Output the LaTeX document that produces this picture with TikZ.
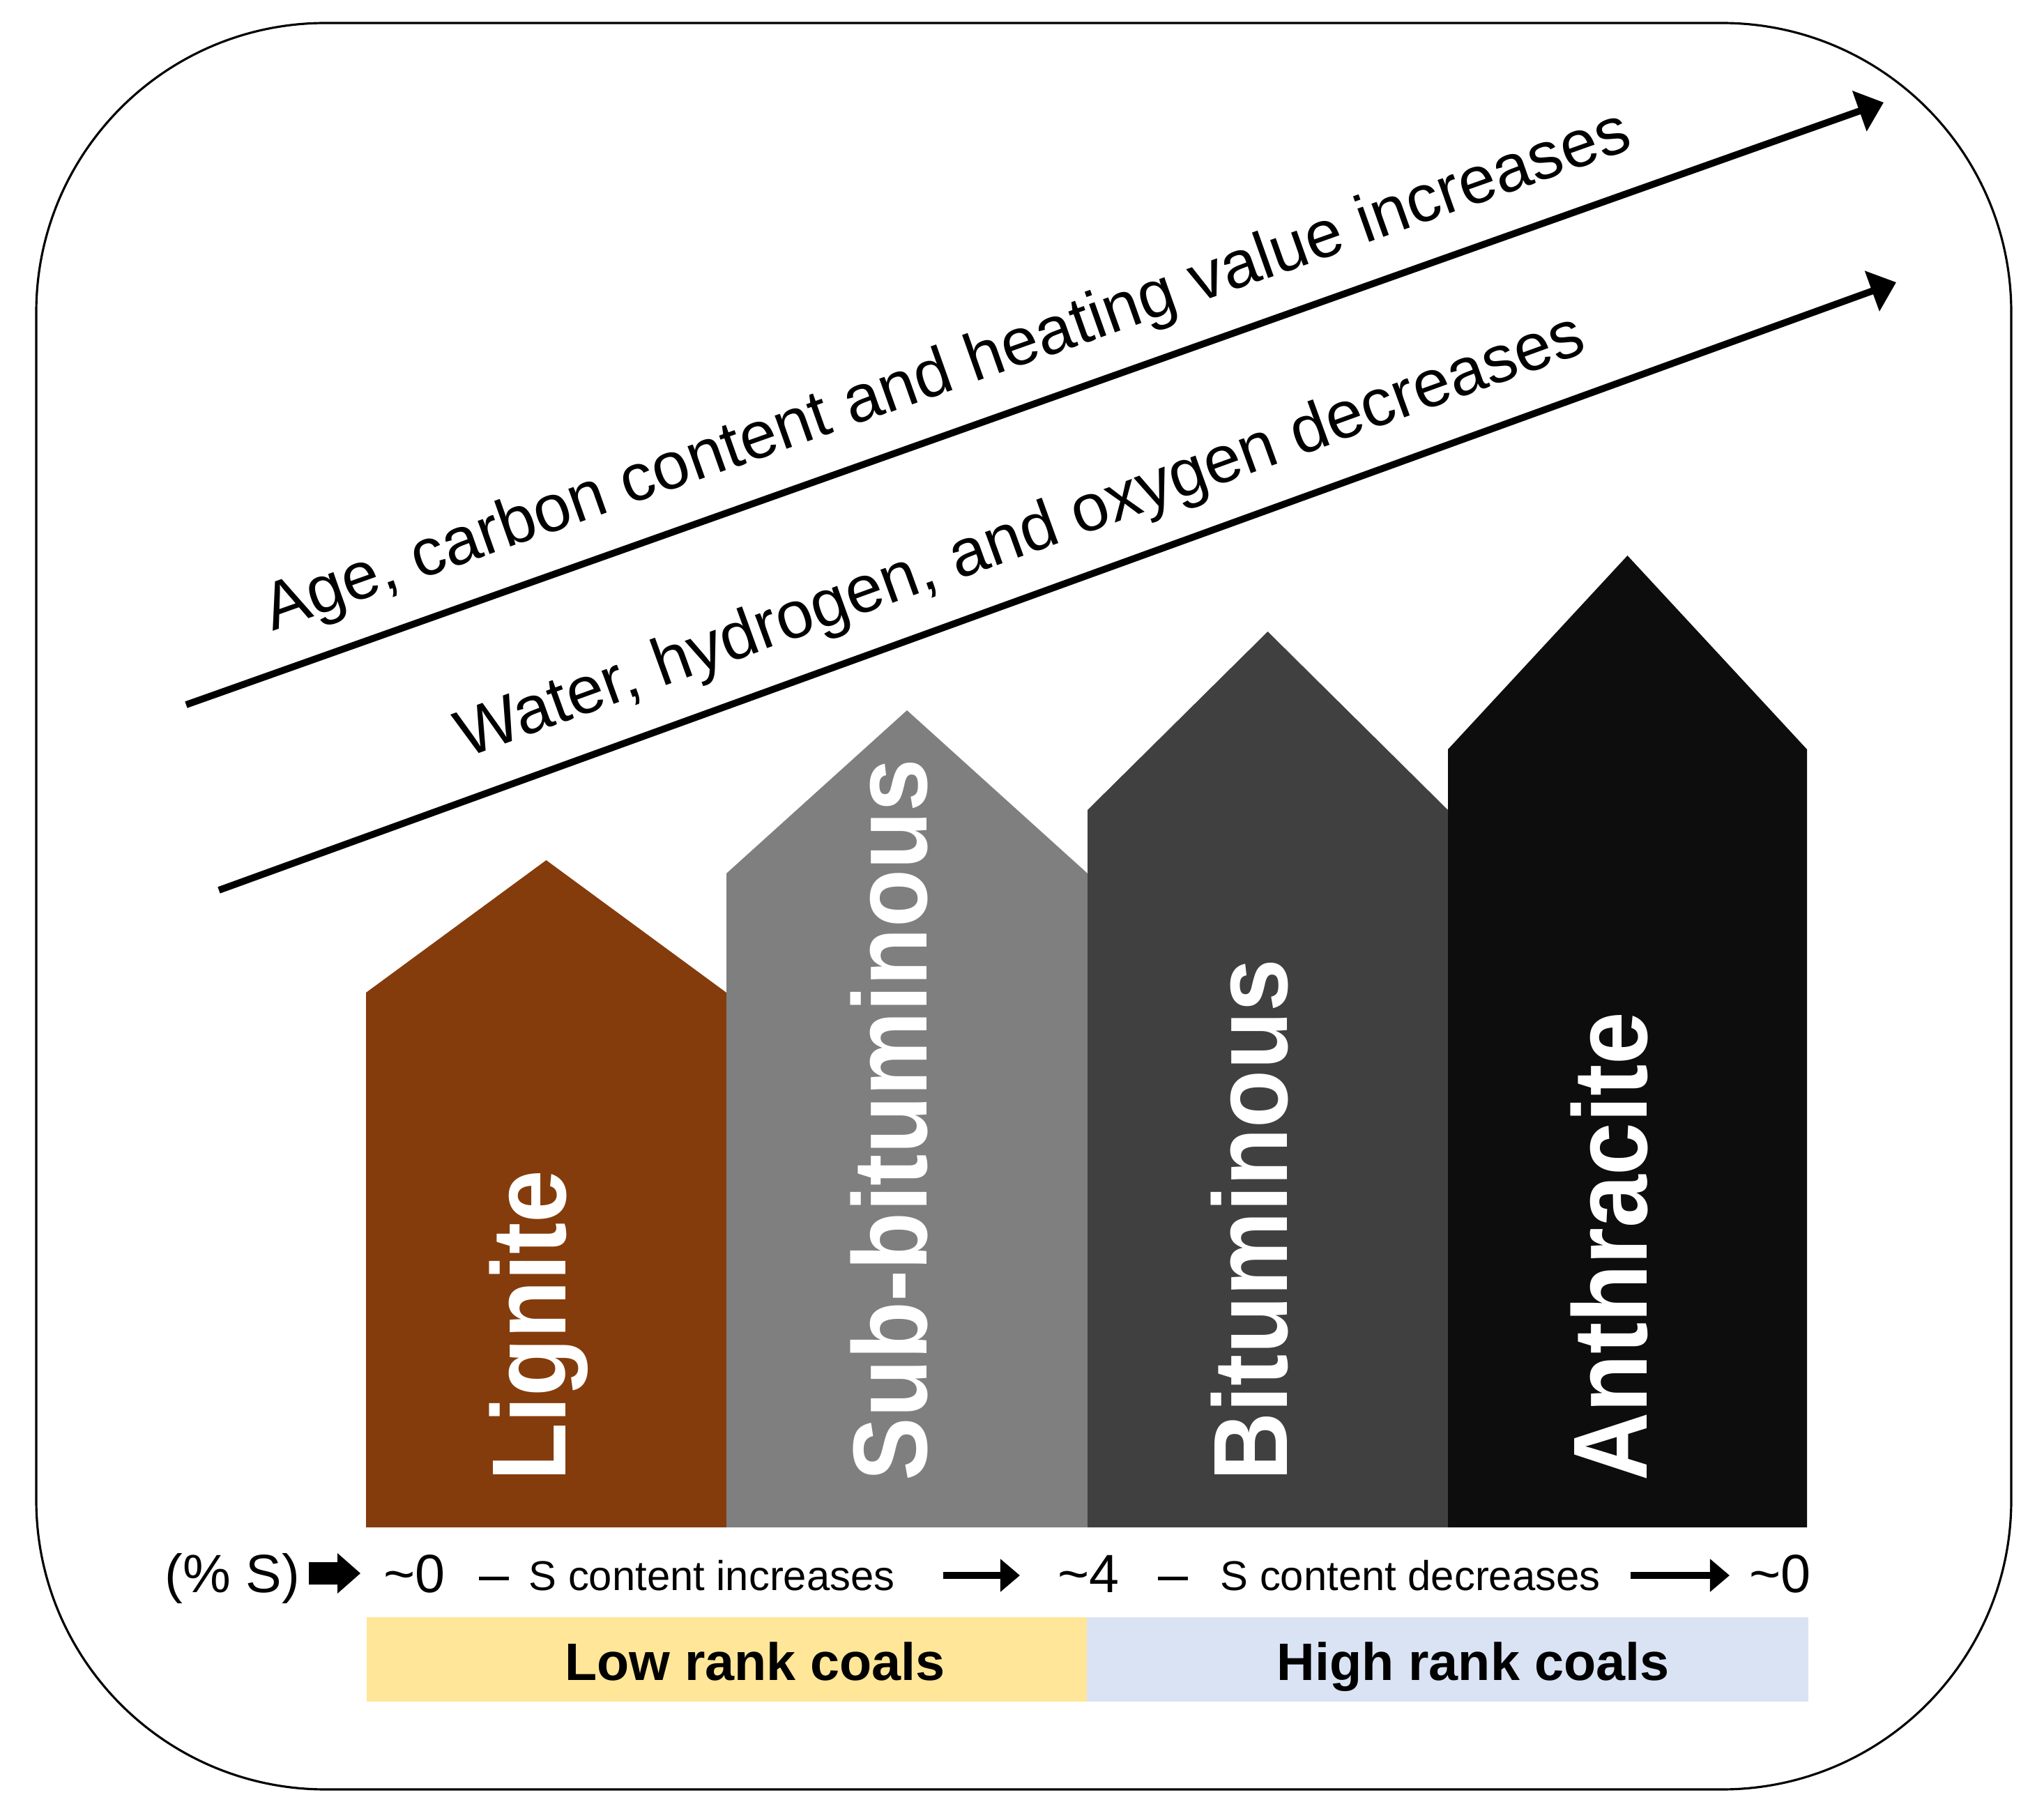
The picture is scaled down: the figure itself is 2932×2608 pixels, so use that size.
\documentclass[tikz,border=0pt]{standalone}
\usepackage{fontspec}
\setmainfont{Liberation Sans}
\newfontfamily\narrowsans[FakeStretch=0.9]{Liberation Sans}
\usetikzlibrary{arrows.meta}
\definecolor{lignitebrown}{HTML}{843C0C}
\definecolor{subgray}{HTML}{7F7F7F}
\definecolor{bitgray}{HTML}{404040}
\definecolor{anthblack}{HTML}{0D0D0D}
\definecolor{lowyellow}{HTML}{FFE699}
\definecolor{highblue}{HTML}{DAE3F3}

\begin{document}
\begin{tikzpicture}[x=0.1mm,y=-0.1mm,
  trend/.style={line width=2.8pt,-{Triangle[length=10.5pt,width=17pt]}},
  trendlabel/.style={above=6pt,sloped,font=\fontsize{27.2}{30}\selectfont},
  coallabel/.style={rotate=90,anchor=base west,inner sep=0pt,text=white,font=\narrowsans\bfseries\fontsize{43}{45}\selectfont},
  sulfur/.style={anchor=base west,inner sep=0pt,font=\fontsize{22}{24}\selectfont},
  sulfurnote/.style={anchor=base west,inner sep=0pt,font=\fontsize{17}{19}\selectfont},
  sulfurarrow/.style={line width=2.6pt,-{Triangle[length=8pt,width=13pt]}},
  rankbox/.style={anchor=base,font=\bfseries\fontsize{21.5}{24}\selectfont}]
\useasboundingbox (0,0) rectangle (2932,2608);
% frame
\draw[line width=0.9pt,rounded corners=41.5mm] (52,33) rectangle (2885,2567);
% trend arrows
\draw[trend] (267,1011) -- (2702,147) node[trendlabel,pos=0.46] (agetext) {Age, carbon content and heating value increases};
\draw[trend] (314,1277) -- (2720,405) node[trendlabel,pos=0.49] (watertext) {Water, hydrogen, and oxygen decreases};
% coal ranks
\foreach \xa/\xb/\ys/\yp/\col/\nm/\lab in {525/1042/1424/1234/lignitebrown/lignite/Lignite,
  1042/1560/1253/1019/subgray/subbit/Sub-bituminous,
  1560/2077/1162/906/bitgray/bitum/Bituminous,
  2077/2592/1075/797/anthblack/anthr/Anthracite}{
  \fill[\col] (\xa,2191) -- (\xa,\ys) -- ({(\xa+\xb)/2},\yp) -- (\xb,\ys) -- (\xb,2191) -- cycle;
  \node[coallabel] (\nm) at ({(\xa+\xb)/2+28},2125) {\lab};
}
% sulfur row
\node[sulfur] (pcts) at (236,2284) {(\% S)};
\fill (443,2241) -- (484,2241) -- (484,2228) -- (517,2257) -- (484,2286) -- (484,2273) -- (443,2273) -- cycle;
\node[sulfur] (zeroa) at (550,2284) {\textasciitilde0};
\node[sulfur] (dasha) at (687,2284) {\textendash};
\node[sulfurnote] (incr) at (758,2281) {S content increases};
\coordinate (incra) at (1353,2260);
\coordinate (incrb) at (1463,2260);
\draw[sulfurarrow] (incra) -- (incrb);
\node[sulfur] (four) at (1517,2284) {\textasciitilde4};
\node[sulfur] (dashb) at (1661,2284) {\textendash};
\node[sulfurnote] (decr) at (1750,2281) {S content decreases};
\coordinate (decra) at (2339,2260);
\coordinate (decrb) at (2481,2260);
\draw[sulfurarrow] (decra) -- (decrb);
\node[sulfur] (zerob) at (2509,2284) {\textasciitilde0};
% rank boxes
\fill[lowyellow] (526,2320) rectangle (1559,2441);
\fill[highblue] (1559,2320) rectangle (2594,2441);
\node[rankbox] (lowrank) at (1083,2410) {Low rank coals};
\node[rankbox] (highrank) at (2113,2410) {High rank coals};
\end{tikzpicture}
\end{document}
